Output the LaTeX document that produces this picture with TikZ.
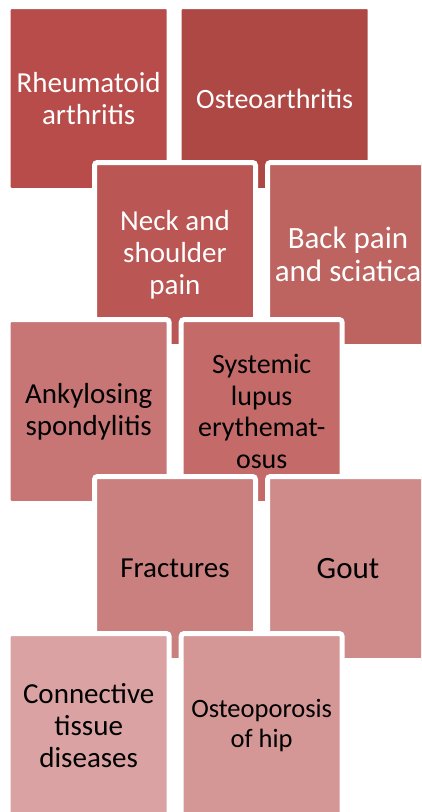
\documentclass[tikz,border=0pt]{standalone}
\usepackage{fontspec}
\setmainfont{Carlito}
\usepackage{xcolor}
\usetikzlibrary{positioning}

\definecolor{tileRA}{HTML}{B74C4A}
\definecolor{tileOA}{HTML}{AE4845}
\definecolor{tileNS}{HTML}{BA5654}
\definecolor{tileBP}{HTML}{BD6360}
\definecolor{tileAS}{HTML}{C87675}
\definecolor{tileSL}{HTML}{C46B6A}
\definecolor{tileFR}{HTML}{C9807F}
\definecolor{tileGT}{HTML}{CE8B8A}
\definecolor{tileCT}{HTML}{DAA2A2}
\definecolor{tileOP}{HTML}{D49796}

\begin{document}
\begin{tikzpicture}[
  x=1pt, y=-1pt,
  tile/.style={draw=white, line width=5pt, rounded corners=3pt, anchor=north west,
    inner sep=0pt, outer sep=0pt, minimum width=161pt, minimum height=184pt,
    align=center, font=\fontsize{29}{32}\selectfont},
  lighttxt/.style={text=white},
  darktxt/.style={text=black}
]
  \useasboundingbox[fill=white] (0,0) rectangle (421,812);
  \clip (0,0) rectangle (421,812);

  % row 1
  \node[tile, lighttxt, fill=tileRA] (ra) at (8.2,6.5) {Rheumatoid\\arthritis};
  \node[tile, lighttxt, fill=tileOA, minimum width=191pt, font=\fontsize{28}{31}\selectfont] (oa) at (179.2,6.5) {Osteoarthritis};
  % row 2
  \node[tile, lighttxt, fill=tileNS] (neck) at (94.5,162.5) {Neck and\\shoulder\\pain};
  \node[tile, lighttxt, fill=tileBP, font=\fontsize{31}{33}\selectfont] (back) at (267.5,162.5) {Back pain\\and sciatica};
  % row 3
  \node[tile, darktxt, fill=tileAS] (ank) at (8.2,319.5) {Ankylosing\\spondylitis};
  \node[tile, darktxt, fill=tileSL, font=\fontsize{28}{31.5}\selectfont] (sle) at (181.2,319.5) {Systemic\\lupus\\erythemat-\\osus};
  % row 4
  \node[tile, darktxt, fill=tileFR] (frac) at (94.5,476.5) {Fractures};
  \node[tile, darktxt, fill=tileGT, font=\fontsize{31}{33}\selectfont] (gout) at (267.5,476.5) {Gout};
  % row 5
  \node[tile, darktxt, fill=tileCT] (ctd) at (8.2,633.5) {Connective\\tissue\\diseases};
  \node[tile, darktxt, fill=tileOP, font=\fontsize{26.5}{29.5}\selectfont] (ohip) at (181.2,633.5) {Osteoporosis\\of hip};
\end{tikzpicture}
\end{document}
